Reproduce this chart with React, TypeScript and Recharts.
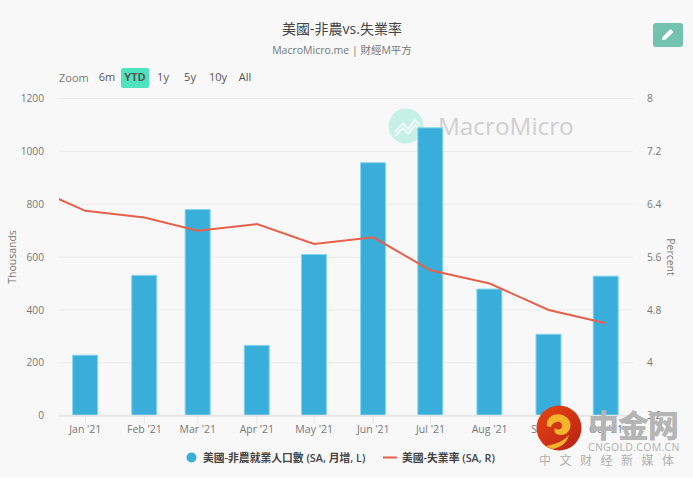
import React from "react";
import { ComposedChart, Bar, Line, XAxis, YAxis, CartesianGrid, Legend } from "recharts";

const dayOfYear = [-31, 0, 31, 59, 90, 120, 151, 181, 212, 243, 273];
const monthLabels = ["Dec '20", "Jan '21", "Feb '21", "Mar '21", "Apr '21", "May '21", "Jun '21", "Jul '21", "Aug '21", "Sep '21", "Oct '21"];
const payrolls = [null, 229, 531, 780, 266, 610, 957, 1089, 479, 308, 528];
const unemployment = [6.7, 6.3, 6.2, 6.0, 6.1, 5.8, 5.9, 5.4, 5.2, 4.8, 4.6];
const leftTicks = [0, 200, 400, 600, 800, 1000, 1200];
const rightTicks = [3.2, 4, 4.8, 5.6, 6.4, 7.2, 8];
const rangeButtons = ["6m", "YTD", "1y", "5y", "10y", "All"];
const rangeX = [107, 135, 163, 190, 218, 245];
const barName = "美國-非農就業人口數 (SA, 月增, L)";
const lineName = "美國-失業率 (SA, R)";

const data = dayOfYear.map((d, i) => ({ d, payrolls: payrolls[i], unemployment: unemployment[i] }));
const labelByDay = new Map(dayOfYear.map((d, i) => [d, monthLabels[i]]));

const FONT = '"Open Sans", "Noto Sans CJK TC", "Noto Sans", sans-serif';
const abs = (x: number, y: number, extra: React.CSSProperties = {}): React.CSSProperties => ({
  position: "absolute", left: x, top: y, whiteSpace: "nowrap", ...extra,
});

const LegendContent = () => (
  <div style={{ position: "relative", height: 20, fontSize: 10.8, fontWeight: 600, color: "#444", fontFamily: FONT }}>
    <svg style={abs(186, 5)} width="11" height="11"><circle cx="5.5" cy="5.5" r="5" fill="#3aaedb" /></svg>
    <span style={abs(203, 2)}>{barName}</span>
    <svg style={abs(383, 5)} width="15" height="11"><line x1="0" x2="14" y1="5.5" y2="5.5" stroke="#e8604a" strokeWidth="2" /></svg>
    <span style={abs(402, 2)}>{lineName}</span>
  </div>
);

export default function App() {
  return (
    <div style={{ position: "absolute", left: 0, top: 0, width: 693, height: 478, background: "#f8f8f8", overflow: "hidden", fontFamily: FONT }}>
      <div style={abs(0, 477, { width: 693, height: 1, background: "#fff" })} />
      <svg style={abs(388, 108)} width="36" height="36">
        <circle cx="18" cy="18" r="17.5" fill="#c4f0e6" />
        <polyline points="7,24 15,15 20,21 27,12 32,17" fill="none" stroke="#fff" strokeWidth="1.6" />
        <polyline points="7,28 15,20 20,26 27,17 31,21" fill="none" stroke="#fff" strokeWidth="1.6" />
      </svg>
      <div style={abs(438, 108, { fontSize: 24.3, color: "#cfcfcf", lineHeight: "36px" })}>MacroMicro</div>

      <div style={abs(0, 19, { width: 684, textAlign: "center", fontSize: 14, color: "#444", lineHeight: "20px" })}>美國-非農vs.失業率</div>
      <div style={abs(0, 42, { width: 684, textAlign: "center", fontSize: 10.5, color: "#777", lineHeight: "16px" })}>MacroMicro.me | 財經M平方</div>

      <div style={abs(59, 70, { fontSize: 11, color: "#777", lineHeight: "16px" })}>Zoom</div>
      {rangeButtons.map((b, i) => (
        <div key={b} style={abs(rangeX[i] - 14, 68, {
          width: 28, height: 20, lineHeight: "18px", textAlign: "center", fontSize: 11, borderRadius: 2,
          color: "#555", fontWeight: b === "YTD" ? 700 : 400, background: b === "YTD" ? "#4fe3bd" : "transparent",
        })}>{b}</div>
      ))}
      <div style={abs(653, 23, { width: 30, height: 24, background: "#72c2ae", borderRadius: 3 })}>
        <svg width="30" height="24">
          <path d="M9 17 L9.8 13.6 L17.5 6 L20.5 9 L12.8 16.4 Z" fill="#fff" />
        </svg>
      </div>

      <div style={abs(0, 0)}>
        <ComposedChart
          width={693}
          height={478}
          data={data}
          barSize={25}
          margin={{ top: 98.5, right: 0, bottom: 16.3, left: 0 }}
        >
          <CartesianGrid yAxisId="left" xAxisId={0} horizontal vertical={false} stroke="#e9e9e9" syncWithTicks />
          <XAxis
            dataKey="d"
            type="number"
            scale="linear"
            domain={[-13.8, 287.2]}
            allowDataOverflow
            ticks={dayOfYear.slice(1)}
            interval={0}
            tickFormatter={(v: number) => labelByDay.get(v) ?? ""}
            tick={{ fontSize: 10.5, fill: "#777", fontFamily: FONT }}
            tickSize={8}
            tickLine={{ stroke: "#e6e6e6" }}
            axisLine={{ stroke: "#e6e6e6", strokeWidth: 2 }}
            height={26}
          />
          <YAxis
            yAxisId="left"
            domain={[0, 1200]}
            ticks={leftTicks}
            width={59}
            orientation="left"
            axisLine={false}
            tickLine={false}
            tickMargin={9}
            tick={{ fontSize: 10.2, fill: "#777", fontFamily: FONT }}
          />
          <YAxis
            yAxisId="right"
            orientation="right"
            domain={[3.2, 8]}
            ticks={rightTicks}
            width={60}
            axisLine={false}
            tickLine={false}
            tickMargin={8}
            tick={{ fontSize: 10.2, fill: "#777", fontFamily: FONT }}
          />
          <Bar yAxisId="left" dataKey="payrolls" name={barName} fill="#3aaedb" stroke="#86d6ef" strokeWidth={1} isAnimationActive={false} />
          <Line yAxisId="right" dataKey="unemployment" name={lineName} stroke="#e8604a" strokeWidth={2} dot={false} type="linear" isAnimationActive={false} />
          <Legend content={<LegendContent />} wrapperStyle={{ left: 0, top: 447, width: 693, height: 20 }} />
        </ComposedChart>
      </div>

      <div style={abs(12, 257, { fontSize: 10.5, color: "#777", transform: "translate(-50%,-50%) rotate(-90deg)" })}>Thousands</div>
      <div style={abs(671, 257, { fontSize: 10.5, color: "#777", transform: "translate(-50%,-50%) rotate(90deg)" })}>Percent</div>

      <svg style={abs(536, 405)} width="46" height="46">
        <defs>
          <linearGradient id="cg" x1="0" y1="0" x2="1" y2="1">
            <stop offset="0" stopColor="#e8470f" />
            <stop offset="1" stopColor="#b81f18" />
          </linearGradient>
        </defs>
        <circle cx="23" cy="23" r="22.5" fill="url(#cg)" />
        <path d="M11 18 C12 9 24 7 30 12 C38 17 35 30 25 30 C20 30 17 27 19 23 C24 27 28 22 25 18 C22 15 16 18 15 22 C12 22 10 21 11 18 Z" fill="#f4b52c" />
        <path d="M10 41 C20 39 28 36 33 30 C31 38 24 43 16 44 Z" fill="#f4b52c" />
      </svg>
      <div style={abs(588, 406, { fontSize: 31, fontWeight: 900, color: "#b5b5b5", letterSpacing: -1, lineHeight: "36px", fontFamily: '"Noto Sans CJK SC", sans-serif' })}>中金网</div>
      <div style={abs(588, 441, { fontSize: 10.5, color: "#b0b0b0", letterSpacing: 0.3, lineHeight: "13px" })}>CNGOLD.COM.CN</div>
      <div style={abs(539, 452, { fontSize: 12, color: "#b0b0b0", letterSpacing: 8.5, lineHeight: "16px", fontFamily: '"Noto Sans CJK SC", sans-serif' })}>中文财经新媒体</div>
    </div>
  );
}
